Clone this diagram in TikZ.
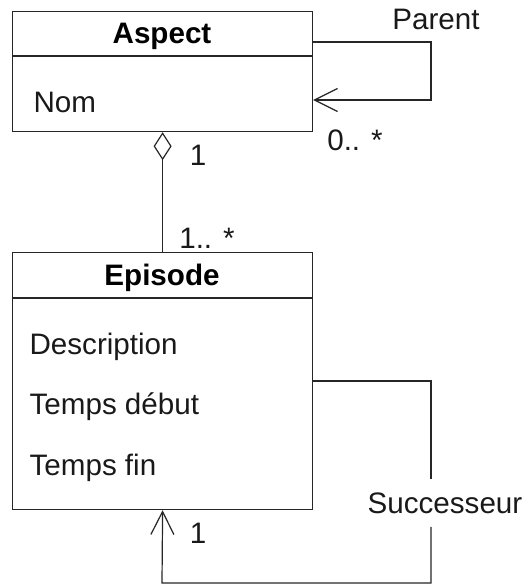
\documentclass[tikz,border=0pt]{standalone}
\usepackage{fontspec}
\setmainfont{Liberation Sans}
\usetikzlibrary{arrows.meta,calc}
\newcommand\myfs{\fontsize{14.8}{17}\selectfont}
\begin{document}
\begin{tikzpicture}[x=0.5pt,y=-0.5pt,
  font=\myfs, line width=0.6pt, color={black!85},
  box/.style={draw, minimum width=150pt, anchor=north west, inner sep=0pt},
  txt/.style={inner sep=0pt, anchor=base west, text=black!90},
  ctxt/.style={inner sep=0pt, anchor=base, text=black!90},
  title/.style={inner sep=0pt, anchor=base, text=black, font=\myfs\bfseries},
  barb/.style={-{Straight Barb[length=11.5pt,width=11.5pt]}},
  aggr/.style={{Diamond[open,length=14pt,width=9pt]}-}]
\useasboundingbox (0,0) rectangle (529,585);
% Aspect class
\node[box, minimum height=60pt] (aspect) at (12,11) {};
\node[title] (aspT) at (162,43) {Aspect};
\draw ($(aspect.north west)+(0,45)$) -- ($(aspect.north east)+(0,45)$);
\node[txt] (nom) at (33,112) {Nom};
% Episode class
\node[box, minimum height=128.5pt] (episode) at (12,252) {};
\node[title] (epT) at (162,285) {Episode};
\draw ($(episode.north west)+(0,46)$) -- ($(episode.north east)+(0,46)$);
\node[txt] (desc) at (29,354) {Description};
\node[txt] (tdeb) at (29,414) {Temps début};
\node[txt] (tfin) at (29,475) {Temps fin};
% aggregation
\draw[aggr] (aspect.south) -- (episode.north);
\node[ctxt] (m1) at (198,165) {1};
\node[ctxt] (m2) at (207,248) {1.. *};
% Parent self association
\coordinate (p1) at (431,42);
\coordinate (p2) at (431,100);
\draw[barb] ($(aspect.north east)+(0,31)$) -- (p1) -- (p2) -- ($(aspect.north east)+(0,89)$);
\node[ctxt] (parent) at (436,29) {Parent};
\node[ctxt] (m3) at (355,150) {0.. *};
% Successeur self association
\node[inner xsep=0pt, inner ysep=6.5pt, anchor=base, text=black!90] (succ) at (445,513) {Successeur};
\coordinate (s1) at (431,381);
\coordinate (s2) at (431,583);
\coordinate (s3) at (162,583);
\draw ($(episode.north east)+(0,129)$) -- (s1) -- (succ.north -| s1);
\draw[barb] (succ.south -| s1) -- (s2) -- (s3) -- (episode.south);
\node[ctxt] (m4) at (198,543) {1};
\end{tikzpicture}
\end{document}
